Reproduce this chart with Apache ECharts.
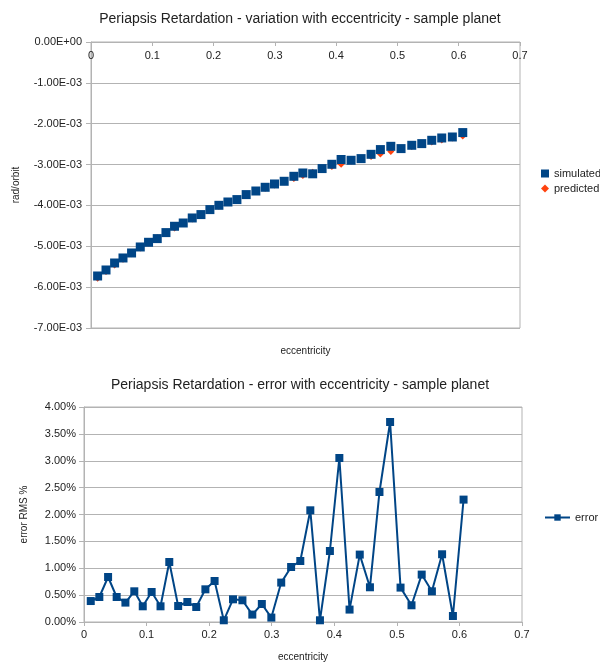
<!DOCTYPE html>
<html>
<head>
<meta charset="utf-8">
<script src="https://cdn.jsdelivr.net/npm/echarts@6/dist/echarts.min.js"></script>
<style>
  html, body { margin: 0; padding: 0; background: #ffffff; }
  #chart { width: 600px; height: 663px; }
</style>
</head>
<body>
<div id="chart"></div>
<script>
// Eccentricity samples (shared by both charts)
const eccentricity = [
  0.0108, 0.0245, 0.0385, 0.0522, 0.0662, 0.0804, 0.0939, 0.1081, 0.1223, 0.1363,
  0.1505, 0.1652, 0.1794, 0.1940, 0.2087, 0.2234, 0.2381, 0.2532, 0.2690, 0.2842,
  0.2994, 0.3152, 0.3310, 0.3457, 0.3617, 0.3771, 0.3930, 0.4081, 0.4244, 0.4407,
  0.4570, 0.4722, 0.4892, 0.5059, 0.5234, 0.5397, 0.5560, 0.5723, 0.5896, 0.6066
];

// Periapsis retardation, rad/orbit
const simulated = [
  -5.727e-3, -5.580e-3, -5.409e-3, -5.286e-3, -5.164e-3, -5.017e-3, -4.902e-3, -4.812e-3, -4.665e-3, -4.510e-3,
  -4.430e-3, -4.307e-3, -4.224e-3, -4.102e-3, -3.997e-3, -3.916e-3, -3.857e-3, -3.735e-3, -3.647e-3, -3.556e-3,
  -3.475e-3, -3.409e-3, -3.287e-3, -3.206e-3, -3.226e-3, -3.098e-3, -2.993e-3, -2.876e-3, -2.895e-3, -2.854e-3,
  -2.749e-3, -2.633e-3, -2.553e-3, -2.609e-3, -2.528e-3, -2.487e-3, -2.406e-3, -2.349e-3, -2.325e-3, -2.217e-3
];

const predicted = [
  -5.78e-3, -5.62e-3, -5.46e-3, -5.32e-3, -5.18e-3, -5.04e-3, -4.92e-3, -4.79e-3, -4.67e-3, -4.55e-3,
  -4.44e-3, -4.33e-3, -4.22e-3, -4.12e-3, -4.02e-3, -3.93e-3, -3.84e-3, -3.75e-3, -3.66e-3, -3.58e-3,
  -3.50e-3, -3.42e-3, -3.34e-3, -3.27e-3, -3.19e-3, -3.12e-3, -3.05e-3, -2.99e-3, -2.92e-3, -2.86e-3,
  -2.80e-3, -2.74e-3, -2.68e-3, -2.62e-3, -2.56e-3, -2.51e-3, -2.45e-3, -2.40e-3, -2.35e-3, -2.30e-3
];

// Error RMS, percent
const errorPct = [
  0.39, 0.465, 0.837, 0.465, 0.361, 0.571, 0.292, 0.558, 0.292, 1.116,
  0.298, 0.372, 0.279, 0.608, 0.763, 0.032, 0.422, 0.404, 0.138, 0.335,
  0.082, 0.733, 1.023, 1.135, 2.078, 0.032, 1.321, 3.051, 0.231, 1.254,
  0.646, 2.419, 3.721, 0.640, 0.311, 0.882, 0.571, 1.260, 0.112, 2.277
];

const titles = [
  'Periapsis Retardation - variation with eccentricity - sample planet',
  'Periapsis Retardation - error with eccentricity - sample planet'
];

const BLUE = '#004586';
const RED = '#ff420e';
const GRID = '#b3b3b3';
const TXT = '#222222';

function sci(v) {
  const n = Math.round(v * 1e9) / 1e9;
  if (n === 0) return '0.00E+00';
  let e = Math.floor(Math.log10(Math.abs(n)) + 1e-9);
  const m = n / Math.pow(10, e);
  const es = (e < 0 ? '-' : '+') + String(Math.abs(e)).padStart(2, '0');
  return m.toFixed(2) + 'E' + es;
}

const chart = echarts.init(document.getElementById('chart'), null, { renderer: 'canvas' });

const axisLineStyle = { color: GRID, width: 1 };

const option = {
  animation: false,
  backgroundColor: '#ffffff',
  textStyle: { fontFamily: 'Liberation Sans, Arial, sans-serif' },
  title: [
    { text: titles[0], left: 'center', top: 7,
      textStyle: { fontSize: 14, fontWeight: 'normal', color: TXT, fontFamily: 'Liberation Sans' } },
    { text: titles[1], left: 'center', top: 373,
      textStyle: { fontSize: 14, fontWeight: 'normal', color: TXT, fontFamily: 'Liberation Sans' } }
  ],
  grid: [
    { left: 91, top: 42, width: 429, height: 286, show: true, borderColor: GRID, borderWidth: 1, containLabel: false },
    { left: 84, top: 407, width: 438, height: 215, show: true, borderColor: GRID, borderWidth: 1, containLabel: false }
  ],
  legend: [
    {
      data: [{ name: 'simulated', icon: 'rect' }, { name: 'predicted', icon: 'diamond' }],
      orient: 'vertical', left: 541, top: 168, padding: 0, itemWidth: 8, itemHeight: 8, itemGap: 4,
      textStyle: { fontSize: 11, color: TXT }
    },
    {
      data: ['error'],
      orient: 'vertical', left: 544, top: 512, padding: 0, itemWidth: 25, itemHeight: 8,
      textStyle: { fontSize: 11, color: TXT }
    }
  ],
  xAxis: [
    {
      gridIndex: 0, type: 'value', min: 0, max: 0.7, interval: 0.1, position: 'top',
      axisLine: { show: true, onZero: false, lineStyle: axisLineStyle },
      axisTick: { show: true, inside: true, length: 4, lineStyle: axisLineStyle },
      axisLabel: { inside: true, fontSize: 11, color: TXT, margin: 8 },
      splitLine: { show: false }
    },
    {
      gridIndex: 0, type: 'value', min: 0, max: 0.7, position: 'bottom',
      axisLine: { show: false, onZero: false }, axisTick: { show: false },
      axisLabel: { show: false }, splitLine: { show: false },
      name: 'eccentricity', nameLocation: 'middle', nameGap: 18,
      nameTextStyle: { fontSize: 10, color: TXT }
    },
    {
      gridIndex: 1, type: 'value', min: 0, max: 0.7, interval: 0.1,
      axisLine: { show: true, onZero: false, lineStyle: axisLineStyle },
      axisTick: { show: true, length: 4, lineStyle: axisLineStyle },
      axisLabel: { fontSize: 11, color: TXT, margin: 7 },
      splitLine: { show: false },
      name: 'eccentricity', nameLocation: 'middle', nameGap: 30,
      nameTextStyle: { fontSize: 10, color: TXT }
    }
  ],
  yAxis: [
    {
      gridIndex: 0, type: 'value', min: -0.007, max: 0, interval: 0.001,
      axisLine: { show: true, lineStyle: axisLineStyle },
      axisTick: { show: true, length: 5, lineStyle: axisLineStyle },
      axisLabel: { fontSize: 11, color: TXT, margin: 9, formatter: sci },
      splitLine: { show: true, lineStyle: { color: GRID, width: 1 } },
      name: 'rad/orbit', nameLocation: 'middle', nameGap: 70,
      nameTextStyle: { fontSize: 10, color: TXT }
    },
    {
      gridIndex: 1, type: 'value', min: 0, max: 4, interval: 0.5,
      axisLine: { show: true, lineStyle: axisLineStyle },
      axisTick: { show: true, length: 5, lineStyle: axisLineStyle },
      axisLabel: { fontSize: 11, color: TXT, margin: 8, formatter: v => v.toFixed(2) + '%' },
      splitLine: { show: true, lineStyle: { color: GRID, width: 1 } },
      name: 'error RMS %', nameLocation: 'middle', nameGap: 55,
      nameTextStyle: { fontSize: 10, color: TXT }
    }
  ],
  series: [
    {
      name: 'predicted', type: 'scatter', xAxisIndex: 0, yAxisIndex: 0,
      symbol: 'diamond', symbolSize: 7, itemStyle: { color: RED, opacity: 1 }, z: 2,
      data: eccentricity.map((e, i) => [e, predicted[i]])
    },
    {
      name: 'simulated', type: 'scatter', xAxisIndex: 0, yAxisIndex: 0,
      symbol: 'rect', symbolSize: 9, itemStyle: { color: BLUE, opacity: 1 }, z: 3,
      data: eccentricity.map((e, i) => [e, simulated[i]])
    },
    {
      name: 'error', type: 'line', xAxisIndex: 2, yAxisIndex: 1,
      symbol: 'rect', symbolSize: 8, showAllSymbol: true,
      lineStyle: { color: BLUE, width: 2 }, itemStyle: { color: BLUE, opacity: 1 },
      data: eccentricity.map((e, i) => [e, errorPct[i]])
    }
  ]
};

chart.setOption(option);
</script>
</body>
</html>
